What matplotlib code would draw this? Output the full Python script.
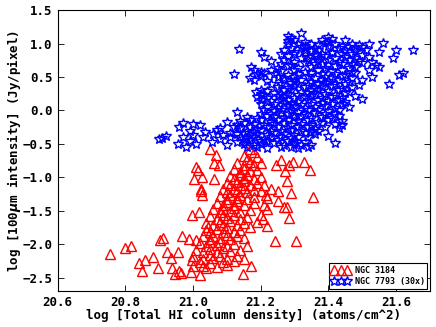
import numpy as np
import matplotlib
matplotlib.use("Agg")
import matplotlib.pyplot as plt

# NGC 3184: log N(HI) vs log I(100um)
ngc3184_pts = [
    # sparse outliers
    (20.756, -2.15), (20.80, -2.05), (20.817, -2.02), (20.841, -2.28), (20.858, -2.24),
    (20.85, -2.40), (20.883, -2.19), (20.897, -2.35), (20.902, -1.93), (20.912, -1.90),
    (20.923, -2.12), (20.934, -2.21), (20.938, -2.35), (20.947, -2.44), (20.955, -2.11),
    (20.96, -2.40), (20.965, -2.43), (20.967, -1.87), (20.987, -1.92), (20.997, -1.57),
    (21.019, -1.52), (20.995, -2.42), (21.021, -2.46), (21.009, -0.85), (21.015, -0.89),
    (21.002, -1.03), (21.026, -1.00), (21.023, -1.17), (21.026, -1.26), (21.025, -1.20),
    (21.051, -0.58), (21.068, -0.67), (21.063, -0.79), (21.078, -0.82), (21.061, -1.03),
    (21.329, -0.77), (21.347, -0.89), (21.354, -1.30), (21.305, -1.95), (21.242, -1.95),
    (21.283, -1.61), (21.171, -2.33), (21.147, -2.45), (21.297, -0.77), (21.285, -0.82),
    (21.259, -0.74), (21.246, -0.81), (21.272, -0.91), (21.277, -1.06), (21.291, -1.23),
    (21.278, -1.45), (21.268, -1.45), (21.25, -1.36), (21.219, -1.73), (21.207, -1.63),
    (21.216, -1.26), (20.996, -2.24), (21.01, -1.94), (21.03, -2.33), (21.045, -1.74),
    # main band
    (21.00, -2.33), (21.02, -2.27), (21.04, -2.36), (21.05, -2.28), (21.07, -2.34), (21.09, -2.26), (21.10, -2.31), (21.12, -2.25),
    (21.00, -2.18), (21.03, -2.22), (21.05, -2.16), (21.06, -2.21), (21.08, -2.17), (21.10, -2.22), (21.13, -2.18), (21.15, -2.22),
    (21.01, -2.08), (21.03, -2.12), (21.05, -2.07), (21.07, -2.11), (21.09, -2.06), (21.11, -2.10), (21.14, -2.08),
    (21.02, -1.98), (21.04, -2.02), (21.05, -1.96), (21.07, -2.01), (21.08, -1.97), (21.10, -2.03), (21.12, -1.99), (21.16, -2.02),
    (21.03, -1.88), (21.05, -1.92), (21.06, -1.87), (21.08, -1.91), (21.10, -1.86), (21.11, -1.92), (21.13, -1.88), (21.15, -1.91),
    (21.04, -1.78), (21.05, -1.82), (21.07, -1.77), (21.09, -1.81), (21.10, -1.76), (21.12, -1.82), (21.14, -1.79), (21.17, -1.75),
    (21.04, -1.68), (21.06, -1.72), (21.08, -1.67), (21.09, -1.71), (21.11, -1.66), (21.13, -1.72), (21.15, -1.69), (21.19, -1.67),
    (21.05, -1.58), (21.07, -1.62), (21.09, -1.57), (21.10, -1.61), (21.12, -1.56), (21.14, -1.62), (21.16, -1.59), (21.20, -1.57),
    (21.06, -1.48), (21.08, -1.52), (21.09, -1.47), (21.11, -1.51), (21.12, -1.46), (21.14, -1.52), (21.17, -1.49), (21.22, -1.47),
    (21.07, -1.38), (21.09, -1.42), (21.10, -1.37), (21.12, -1.41), (21.13, -1.36), (21.15, -1.42), (21.18, -1.39), (21.21, -1.41),
    (21.08, -1.28), (21.10, -1.32), (21.11, -1.27), (21.13, -1.31), (21.14, -1.26), (21.16, -1.32), (21.18, -1.29), (21.22, -1.31),
    (21.09, -1.18), (21.10, -1.22), (21.12, -1.17), (21.13, -1.21), (21.15, -1.16), (21.16, -1.22), (21.18, -1.19), (21.20, -1.21),
    (21.23, -1.17), (21.25, -1.20),
    (21.10, -1.08), (21.11, -1.12), (21.13, -1.07), (21.14, -1.11), (21.15, -1.06), (21.17, -1.12), (21.19, -1.09), (21.21, -1.11),
    (21.11, -0.98), (21.12, -1.02), (21.14, -0.97), (21.15, -1.01), (21.16, -0.96), (21.18, -1.02), (21.20, -0.99),
    (21.12, -0.88), (21.14, -0.92), (21.15, -0.87), (21.17, -0.91), (21.19, -0.89),
    (21.13, -0.78), (21.15, -0.82), (21.17, -0.77), (21.18, -0.81), (21.20, -0.79),
    (21.15, -0.68), (21.16, -0.72), (21.19, -0.69),
    (21.17, -0.58), (21.18, -0.62),
]

# NGC 7793 scaled by 30x
ngc7793_pts = [
    (21.32, 1.16),
    (21.28, 1.11), (21.29, 1.08), (21.40, 1.10), (21.41, 1.07),
    (21.28, 1.04), (21.30, 1.06), (21.33, 1.03), (21.38, 1.05), (21.45, 1.05), (21.40, 1.02),
    (21.28, 0.99), (21.31, 1.00), (21.33, 0.97), (21.35, 1.00), (21.37, 0.98), (21.39, 1.01),
    (21.42, 0.99), (21.44, 0.97), (21.47, 1.00), (21.49, 0.98), (21.52, 1.00), (21.56, 1.01),
    (21.29, 0.94), (21.32, 0.95), (21.36, 0.93), (21.40, 0.96), (21.43, 0.94), (21.46, 0.95), (21.48, 0.93), (21.50, 0.95),
    (21.137, 0.92), (21.27, 0.90), (21.30, 0.88), (21.33, 0.91), (21.35, 0.89), (21.37, 0.90),
    (21.41, 0.88), (21.45, 0.91), (21.48, 0.89), (21.51, 0.90), (21.60, 0.91), (21.65, 0.90),
    (21.20, 0.87), (21.26, 0.85), (21.30, 0.84), (21.33, 0.86), (21.36, 0.83), (21.38, 0.85),
    (21.41, 0.86), (21.44, 0.84), (21.47, 0.85), (21.50, 0.83), (21.55, 0.87),
    (21.21, 0.80), (21.28, 0.81), (21.32, 0.79), (21.34, 0.80), (21.37, 0.78), (21.39, 0.81),
    (21.42, 0.79), (21.45, 0.80), (21.48, 0.78), (21.52, 0.80), (21.59, 0.79),
    (21.23, 0.74), (21.27, 0.76), (21.30, 0.73), (21.34, 0.75), (21.37, 0.74), (21.40, 0.76),
    (21.43, 0.73), (21.46, 0.75), (21.49, 0.74), (21.53, 0.73),
    (21.26, 0.70), (21.29, 0.68), (21.33, 0.71), (21.36, 0.69), (21.38, 0.70), (21.40, 0.68),
    (21.44, 0.70), (21.47, 0.69), (21.50, 0.71), (21.54, 0.68),
    (21.171, 0.65), (21.25, 0.64), (21.28, 0.66), (21.31, 0.63), (21.35, 0.65), (21.39, 0.64),
    (21.42, 0.66), (21.46, 0.63), (21.48, 0.65), (21.55, 0.65),
    (21.18, 0.60), (21.20, 0.58), (21.23, 0.61), (21.26, 0.59), (21.30, 0.60), (21.33, 0.58),
    (21.37, 0.61), (21.41, 0.59), (21.44, 0.60), (21.47, 0.58), (21.52, 0.61),
    (21.122, 0.55), (21.19, 0.54), (21.21, 0.56), (21.24, 0.55), (21.28, 0.53), (21.31, 0.55),
    (21.35, 0.56), (21.38, 0.54), (21.42, 0.55), (21.45, 0.53), (21.48, 0.56), (21.61, 0.53), (21.62, 0.56),
    (21.17, 0.49), (21.20, 0.51), (21.25, 0.50), (21.27, 0.48), (21.30, 0.50), (21.34, 0.51),
    (21.36, 0.49), (21.39, 0.50), (21.41, 0.48), (21.44, 0.51), (21.47, 0.49), (21.53, 0.50),
    (21.18, 0.45), (21.22, 0.44), (21.27, 0.46), (21.30, 0.44), (21.32, 0.45), (21.35, 0.43),
    (21.38, 0.46), (21.40, 0.44), (21.43, 0.45), (21.46, 0.43), (21.50, 0.46),
    (21.23, 0.40), (21.26, 0.39), (21.29, 0.41), (21.31, 0.40), (21.34, 0.38), (21.37, 0.40),
    (21.39, 0.41), (21.42, 0.39), (21.45, 0.40), (21.49, 0.38), (21.58, 0.39),
    (21.25, 0.35), (21.28, 0.34), (21.30, 0.36), (21.33, 0.35), (21.36, 0.33), (21.38, 0.35),
    (21.41, 0.36), (21.44, 0.34), (21.47, 0.35),
    (21.186, 0.28), (21.20, 0.30), (21.22, 0.29), (21.27, 0.31), (21.29, 0.30), (21.32, 0.28),
    (21.35, 0.30), (21.37, 0.31), (21.40, 0.29), (21.43, 0.30), (21.46, 0.28), (21.50, 0.17),
    (21.20, 0.25), (21.21, 0.23), (21.24, 0.26), (21.26, 0.24), (21.28, 0.25), (21.31, 0.23),
    (21.34, 0.26), (21.36, 0.24), (21.39, 0.25), (21.42, 0.23), (21.45, 0.26),
    (21.19, 0.20), (21.22, 0.19), (21.25, 0.21), (21.27, 0.20), (21.30, 0.18), (21.33, 0.20),
    (21.35, 0.21), (21.38, 0.19), (21.41, 0.20), (21.44, 0.18), (21.48, 0.21),
    (21.20, 0.15), (21.23, 0.14), (21.26, 0.16), (21.28, 0.15), (21.31, 0.13), (21.34, 0.15),
    (21.37, 0.16), (21.40, 0.14), (21.43, 0.15), (21.45, 0.13),
    (21.20, 0.10), (21.24, 0.09), (21.27, 0.11), (21.29, 0.10), (21.32, 0.08), (21.35, 0.10),
    (21.38, 0.11), (21.41, 0.09), (21.44, 0.10),
    (21.22, 0.05), (21.25, 0.04), (21.28, 0.06), (21.30, 0.05), (21.33, 0.03), (21.36, 0.05),
    (21.39, 0.06), (21.42, 0.04), (21.46, 0.05),
    (21.13, -0.02), (21.21, 0.00), (21.24, -0.01), (21.26, 0.01), (21.29, 0.00), (21.31, -0.02),
    (21.34, 0.00), (21.37, 0.01), (21.40, -0.01), (21.43, 0.00),
    (21.20, -0.05), (21.23, -0.06), (21.26, -0.04), (21.28, -0.05), (21.30, -0.07), (21.33, -0.05),
    (21.36, -0.04), (21.39, -0.06), (21.42, -0.05),
    (21.16, -0.10), (21.19, -0.11), (21.22, -0.09), (21.24, -0.10), (21.27, -0.12), (21.30, -0.10),
    (21.32, -0.09), (21.35, -0.11), (21.38, -0.10), (21.41, -0.12), (21.43, -0.09),
    (21.10, -0.17), (21.14, -0.16), (21.17, -0.14), (21.20, -0.15), (21.23, -0.17), (21.25, -0.15),
    (21.28, -0.14), (21.31, -0.16), (21.34, -0.15), (21.37, -0.17), (21.40, -0.14), (21.44, -0.16),
    (20.97, -0.19), (21.00, -0.20), (21.02, -0.22), (21.13, -0.21), (21.15, -0.19),
    (21.18, -0.20), (21.21, -0.22), (21.24, -0.20), (21.27, -0.19), (21.29, -0.21), (21.32, -0.20),
    (21.35, -0.22), (21.38, -0.19), (21.42, -0.20), (21.44, -0.22),
    (20.96, -0.25), (21.08, -0.26), (21.12, -0.24), (21.14, -0.26), (21.17, -0.25),
    (21.19, -0.27), (21.22, -0.24), (21.25, -0.25), (21.28, -0.26), (21.31, -0.24), (21.34, -0.25),
    (21.36, -0.27), (21.39, -0.25), (21.43, -0.26),
    (20.99, -0.30), (21.035, -0.32), (21.07, -0.29), (21.11, -0.34), (21.16, -0.30),
    (21.18, -0.32), (21.20, -0.29), (21.23, -0.30), (21.26, -0.31), (21.29, -0.29), (21.32, -0.30),
    (21.35, -0.32), (21.37, -0.30),
    (21.00, -0.36), (21.06, -0.35), (21.09, -0.37), (21.13, -0.35), (21.15, -0.34), (21.17, -0.36),
    (21.19, -0.35), (21.22, -0.37), (21.24, -0.34), (21.27, -0.35), (21.30, -0.36), (21.33, -0.34), (21.36, -0.35),
    (20.91, -0.41), (20.92, -0.38), (20.97, -0.40), (21.03, -0.39), (21.08, -0.42), (21.11, -0.40),
    (21.14, -0.39), (21.16, -0.41), (21.18, -0.40), (21.21, -0.42), (21.23, -0.39), (21.26, -0.40),
    (21.29, -0.41), (21.31, -0.39), (21.34, -0.40), (21.40, -0.38),
    (20.90, -0.43), (20.99, -0.45), (21.055, -0.47), (21.13, -0.47), (21.15, -0.45),
    (21.17, -0.44), (21.20, -0.46), (21.22, -0.45), (21.25, -0.44), (21.28, -0.46), (21.30, -0.45), (21.33, -0.47),
    (20.955, -0.50), (20.98, -0.54), (21.01, -0.50), (21.10, -0.52), (21.15, -0.50),
    (21.18, -0.52), (21.20, -0.50), (21.24, -0.49), (21.27, -0.51), (21.30, -0.50), (21.32, -0.52),
    (21.35, -0.51), (21.42, -0.49),
    (21.16, -0.55), (21.19, -0.54), (21.22, -0.56), (21.26, -0.55), (21.29, -0.54), (21.31, -0.56), (21.34, -0.55),
]

ngc3184_x, ngc3184_y = np.array(ngc3184_pts).T
ngc7793_x, ngc7793_y = np.array(ngc7793_pts).T

plt.rcParams['font.family'] = 'DejaVu Sans Mono'
plt.rcParams['font.weight'] = 'bold'
plt.rcParams['font.size'] = 9

fig = plt.figure(figsize=(4.36, 3.27), dpi=100)
ax = fig.add_axes([0.132, 0.110, 0.854, 0.859])

ax.plot(ngc3184_x, ngc3184_y, ls='none', marker='^', ms=6.8, mfc='none',
        mec='red', mew=1.0, label='NGC 3184')
ax.plot(ngc7793_x, ngc7793_y, ls='none', marker='*', ms=7, mfc='none',
        mec='blue', mew=1.0, label='NGC 7793 (30x)')

ax.set_xlim(20.6, 21.7)
ax.set_ylim(-2.7, 1.5)
ax.set_xticks([20.6, 20.8, 21.0, 21.2, 21.4, 21.6])
ax.set_yticks([-2.5, -2.0, -1.5, -1.0, -0.5, 0.0, 0.5, 1.0, 1.5])
ax.tick_params(direction='in', top=True, right=True, length=4, width=0.6, labelsize=9)
for lab in ax.get_xticklabels() + ax.get_yticklabels():
    lab.set_fontweight('bold')

ax.set_xlabel('log [Total HI column density] (atoms/cm^2)', fontsize=9, fontweight='bold', labelpad=0)
ax.set_ylabel(r'log [100$\mu$m intensity] (Jy/pixel)', fontsize=9, fontweight='bold', labelpad=0)

leg = ax.legend(loc='lower right', numpoints=3, fontsize=6, fancybox=False,
                edgecolor='black', framealpha=1, borderaxespad=0.3,
                handlelength=2.2, handletextpad=0.6, borderpad=0.3, labelspacing=0.3)
leg.get_frame().set_linewidth(0.8)
for t in leg.get_texts():
    t.set_fontweight('bold')

fig.savefig('out.png', dpi=100)
